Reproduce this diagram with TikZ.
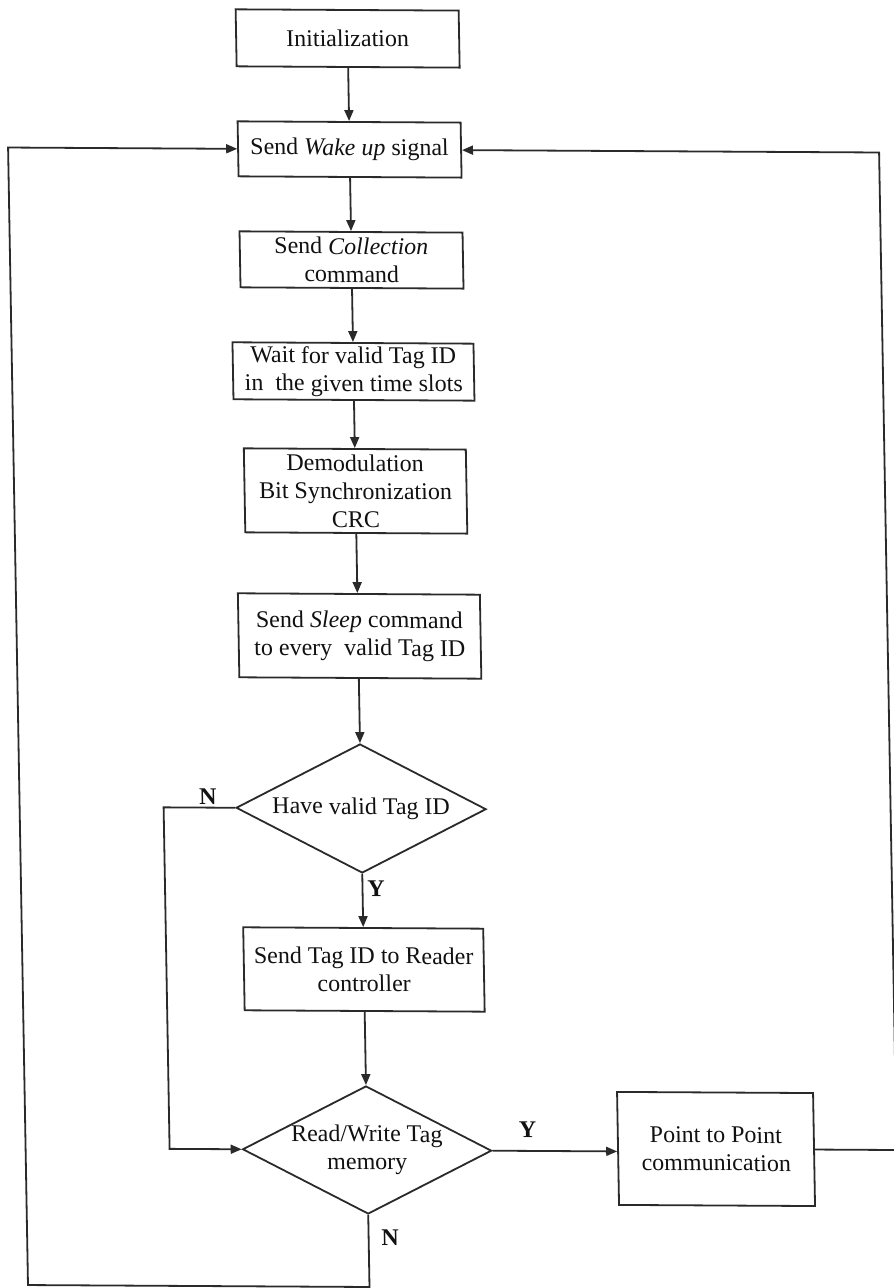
\documentclass[tikz,border=0pt]{standalone}
\usepackage{fontspec}
\setmainfont{Liberation Serif}
\usetikzlibrary{shapes.geometric,arrows.meta}
\definecolor{ink}{HTML}{2A2A2A}
\definecolor{txt}{HTML}{111111}
\begin{document}
\begin{tikzpicture}[x=0.5pt,y=-0.5pt,
  font=\fontsize{12}{14}\selectfont,
  box/.style={draw=ink, line width=0.9pt, rectangle, align=center, inner sep=0pt, text=txt},
  dec/.style={draw=ink, line width=0.9pt, diamond, inner sep=0pt},
  flow/.style={draw=ink, line width=0.9pt, -{Triangle[length=5.5pt,width=4.5pt]}},
  yn/.style={font=\fontsize{12}{14}\selectfont\bfseries, inner sep=0pt, text=txt},
  every label/.style={align=center, inner sep=0pt, text=txt},
]
\fill[white] (0,0) rectangle (893,1288);
\useasboundingbox (0,0) rectangle (893,1288);
\begin{scope}[transform canvas={cm={1,-0.0057,-0.0175,1,(0,0)}}]
  % main column
  \node[box, minimum width=111.5pt, minimum height=28.5pt] (init)  at (347,36.5)  {Initialization};
  \node[box, minimum width=111.5pt, minimum height=27.5pt] (wake)  at (347,147.5) {Send \textit{Wake up} signal};
  \node[box, minimum width=111.5pt, minimum height=28pt]   (coll)  at (347,258)   {Send \textit{Collection}\\command};
  \node[box, minimum width=120.5pt, minimum height=28.5pt] (wait)  at (347,369.5) {Wait for valid Tag ID\\in~ the given time slots};
  \node[box, minimum width=111pt,   minimum height=42pt]   (demod) at (347,489)   {Demodulation\\Bit Synchronization\\CRC};
  \node[box, minimum width=121pt,   minimum height=42pt]   (sleep) at (348.5,634) {Send \textit{Sleep} command\\to every~ valid Tag ID};
  \node[dec, minimum width=125pt,   minimum height=64.5pt,
        label={center:Have valid Tag ID}] (d1) at (347,806.5) {};
  \node[box, minimum width=120pt,   minimum height=41.5pt] (tag)   at (347,967.5) {Send Tag ID to Reader\\controller};
  \node[dec, minimum width=124.5pt, minimum height=64pt,
        label={center:Read/Write Tag\\memory}] (d2) at (347,1148) {};
  \node[box, minimum width=98pt,    minimum height=56.5pt] (pt)    at (696,1145)  {Point to Point\\communication};

  % branch labels
  \node[yn] (n1) at (194,796)    {N};
  \node[yn] (y1) at (360.5,887)  {Y};
  \node[yn] (y2) at (508,1127)   {Y};
  \node[yn] (n2) at (368.5,1236) {N};

  % corner points of the loops
  \coordinate (nb) at (149.5,806.5);
  \coordinate (lt) at (5.5,147.5);
  \coordinate (lb) at (5.5,1285);
  \coordinate (rb) at (876.5,147.5);

  % straight flow
  \draw[flow] (init) -- (wake);
  \draw[flow] (wake) -- (coll);
  \draw[flow] (coll) -- (wait);
  \draw[flow] (wait) -- (demod);
  \draw[flow] (demod.south) -- (demod.south |- sleep.north);
  \draw[flow] (sleep.south -| d1.north) -- (d1.north);
  \draw[flow] (d1) -- (tag);
  \draw[flow] (tag) -- (d2);
  \draw[flow] (d2.east) -- (d2.east -| pt.west);

  % no valid tag: skip to read/write decision
  \draw[flow] (d1.west) -- (nb) |- (d2.west);
  % back to wake up
  \draw[flow] (d2.south) |- (lb) -- (lt) -- (wake.west);
  \draw[flow] (pt.east) -| (rb) -- (wake.east);
\end{scope}
\end{tikzpicture}
\end{document}
